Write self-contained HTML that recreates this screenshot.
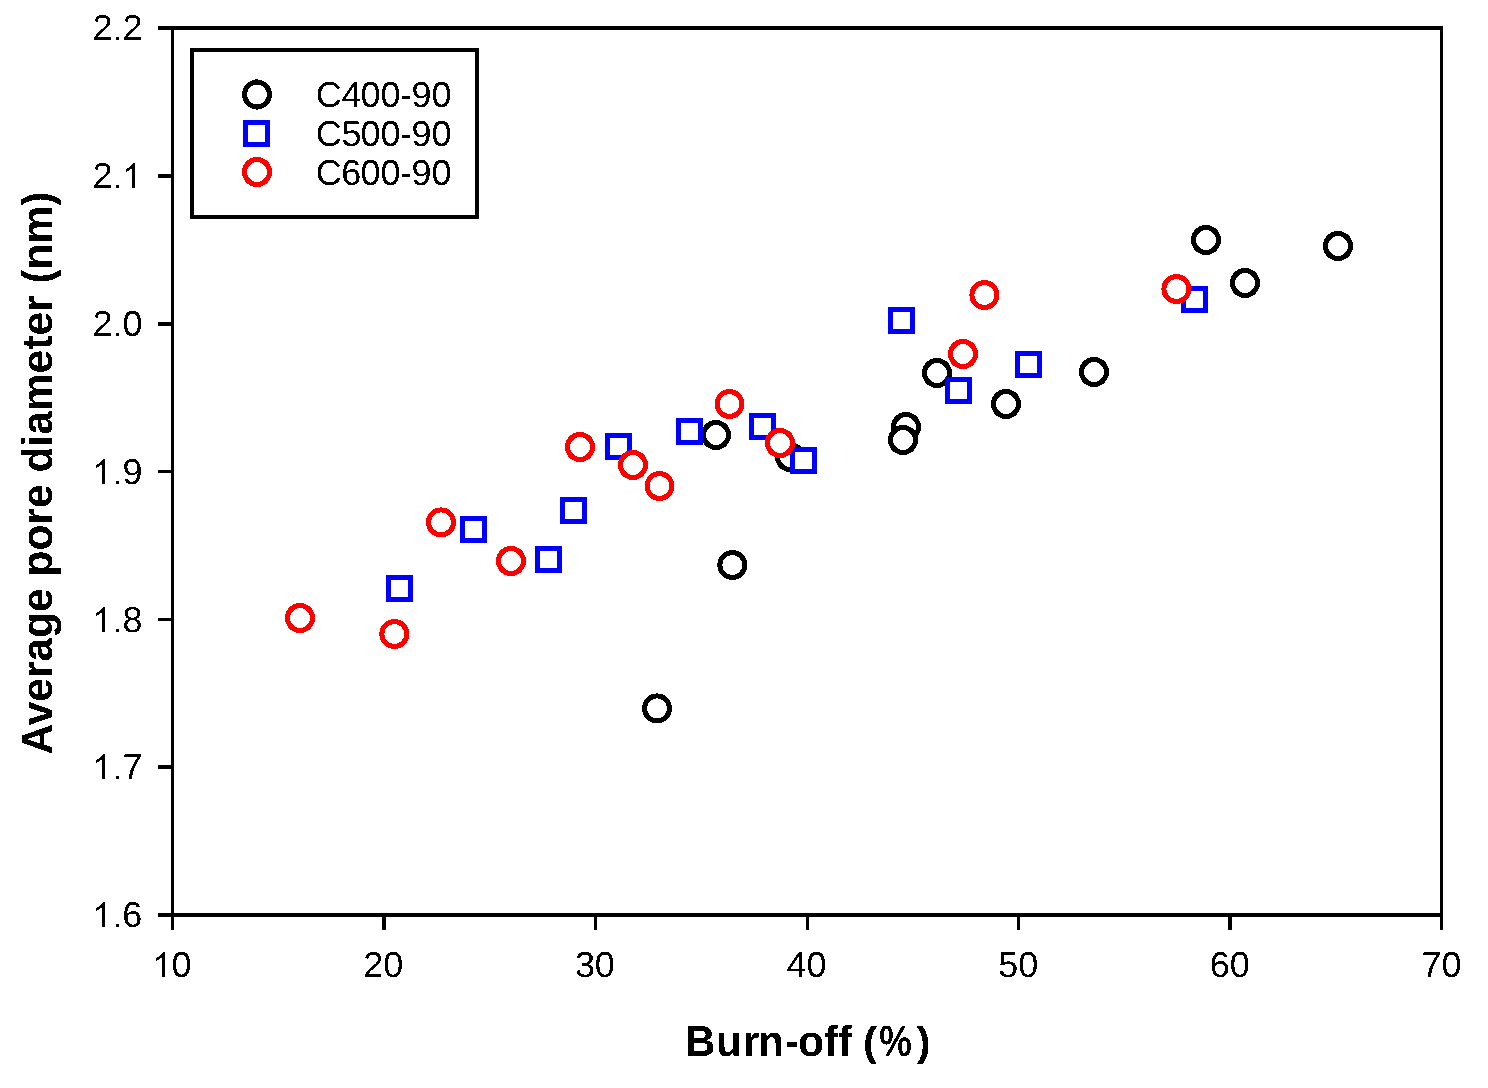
<!DOCTYPE html>
<html><head><meta charset="utf-8"><style>
html,body{margin:0;padding:0;background:#fff;}
svg{display:block;}
.t{font-family:"Liberation Sans",sans-serif;font-size:36px;fill:#000;text-rendering:geometricPrecision;}
.b{font-family:"Liberation Sans",sans-serif;font-size:42.5px;font-weight:bold;fill:#000;text-rendering:geometricPrecision;}
.k{fill:#fff;stroke:#000;stroke-width:5;}
.r{fill:#fff;stroke:#f00;stroke-width:5;}
.s{fill:#fff;stroke:#00f;stroke-width:5;}
</style></head><body>
<svg width="1488" height="1088" viewBox="0 0 1488 1088">
<defs><filter id="crisp" x="0" y="0" width="1488" height="1088" filterUnits="userSpaceOnUse"><feComponentTransfer><feFuncA type="discrete" tableValues="0 1"/></feComponentTransfer></filter></defs>
<g shape-rendering="crispEdges">
<rect x="171" y="26" width="1272" height="4"/>
<rect x="171" y="913" width="1272" height="4"/>
<rect x="171" y="26" width="3" height="891"/>
<rect x="1440" y="26" width="3" height="891"/>
<rect x="158" y="26" width="14" height="4"/>
<rect x="116" y="37" width="3" height="3"/>
<rect x="158" y="174" width="14" height="4"/>
<rect x="116" y="185" width="3" height="3"/>
<rect x="158" y="322" width="14" height="4"/>
<rect x="116" y="333" width="3" height="3"/>
<rect x="158" y="470" width="14" height="3"/>
<rect x="116" y="481" width="3" height="3"/>
<rect x="158" y="618" width="14" height="3"/>
<rect x="116" y="629" width="3" height="3"/>
<rect x="158" y="765" width="14" height="4"/>
<rect x="116" y="776" width="3" height="3"/>
<rect x="158" y="913" width="14" height="4"/>
<rect x="116" y="924" width="3" height="3"/>
<rect x="171" y="917" width="3" height="13"/>
<rect x="382" y="917" width="4" height="13"/>
<rect x="594" y="917" width="3" height="13"/>
<rect x="806" y="917" width="3" height="13"/>
<rect x="1017" y="917" width="3" height="13"/>
<rect x="1228" y="917" width="4" height="13"/>
<rect x="1440" y="917" width="3" height="13"/>
<rect x="192" y="50" width="285" height="167" fill="#fff" stroke="#000" stroke-width="4"/>
<circle cx="657" cy="708.4" r="12.5" class="k"/>
<circle cx="732.3" cy="565" r="12.5" class="k"/>
<circle cx="716" cy="435" r="12.5" class="k"/>
<circle cx="790" cy="457" r="12.5" class="k"/>
<circle cx="906" cy="427" r="12.5" class="k"/>
<circle cx="903" cy="440" r="12.5" class="k"/>
<circle cx="937" cy="373" r="12.5" class="k"/>
<circle cx="1006" cy="404" r="12.5" class="k"/>
<circle cx="1094" cy="372" r="12.5" class="k"/>
<circle cx="1206" cy="240" r="12.5" class="k"/>
<circle cx="1245" cy="283" r="12.5" class="k"/>
<circle cx="1338" cy="246" r="12.5" class="k"/>
<rect x="388.3" y="577.4" width="22" height="22" class="s"/>
<rect x="462.4" y="518" width="22" height="22" class="s"/>
<rect x="537.4" y="548.4" width="22" height="22" class="s"/>
<rect x="562.4" y="499.5" width="22" height="22" class="s"/>
<rect x="607" y="435" width="22" height="22" class="s"/>
<rect x="678.5" y="420.4" width="22" height="22" class="s"/>
<rect x="751.5" y="415" width="22" height="22" class="s"/>
<rect x="792.5" y="449.3" width="22" height="22" class="s"/>
<rect x="890.5" y="309" width="22" height="22" class="s"/>
<rect x="947.5" y="379" width="22" height="22" class="s"/>
<rect x="1017.5" y="353.4" width="22" height="22" class="s"/>
<rect x="1183" y="288.3" width="22" height="22" class="s"/>
<circle cx="300" cy="618" r="12.5" class="r"/>
<circle cx="394.3" cy="634" r="12.5" class="r"/>
<circle cx="441" cy="522.3" r="12.5" class="r"/>
<circle cx="511" cy="561" r="12.5" class="r"/>
<circle cx="580" cy="447" r="12.5" class="r"/>
<circle cx="633" cy="465" r="12.5" class="r"/>
<circle cx="659.5" cy="486" r="12.5" class="r"/>
<circle cx="729.5" cy="404" r="12.5" class="r"/>
<circle cx="780" cy="443" r="12.5" class="r"/>
<circle cx="963" cy="354" r="12.5" class="r"/>
<circle cx="984.4" cy="295" r="12.5" class="r"/>
<circle cx="1176.4" cy="289" r="12.5" class="r"/>
<circle cx="257" cy="94.5" r="12.5" class="k"/>
<rect x="255" y="79" width="3" height="1"/><rect x="256" y="109" width="2" height="1"/>
<rect x="245.5" y="122.5" width="22" height="22" class="s"/>
<circle cx="257" cy="172" r="12.5" class="r"/>
</g>
<g filter="url(#crisp)">
<text x="92.49 122.49" y="40" class="t">22</text>
<path d="M763 0L583 0L583 1147Q518 1085 412.5 1023Q307 961 223 930L223 1104Q374 1175 487 1276Q600 1377 647 1472L763 1472Z" transform="translate(121.75,188) scale(0.017578,-0.017139)"/>
<text x="92.49" y="188" class="t">2</text>
<text x="92.49 122.49" y="336" class="t">20</text>
<path d="M763 0L583 0L583 1147Q518 1085 412.5 1023Q307 961 223 930L223 1104Q374 1175 487 1276Q600 1377 647 1472L763 1472Z" transform="translate(91.75,484) scale(0.017578,-0.017139)"/>
<text x="122.50" y="484" class="t">9</text>
<path d="M763 0L583 0L583 1147Q518 1085 412.5 1023Q307 961 223 930L223 1104Q374 1175 487 1276Q600 1377 647 1472L763 1472Z" transform="translate(91.75,632) scale(0.017578,-0.017139)"/>
<text x="122.49" y="632" class="t">8</text>
<path d="M763 0L583 0L583 1147Q518 1085 412.5 1023Q307 961 223 930L223 1104Q374 1175 487 1276Q600 1377 647 1472L763 1472Z" transform="translate(91.75,779) scale(0.017578,-0.017139)"/>
<text x="122.47" y="779" class="t">7</text>
<path d="M763 0L583 0L583 1147Q518 1085 412.5 1023Q307 961 223 930L223 1104Q374 1175 487 1276Q600 1377 647 1472L763 1472Z" transform="translate(91.75,927) scale(0.017578,-0.017139)"/>
<text x="122.37" y="927" class="t">6</text>
<path d="M763 0L583 0L583 1147Q518 1085 412.5 1023Q307 961 223 930L223 1104Q374 1175 487 1276Q600 1377 647 1472L763 1472Z" transform="translate(151.75,977) scale(0.017578,-0.017139)"/>
<text x="171.49" y="977" class="t">0</text>
<text x="363.16 383.16" y="977" class="t">20</text>
<text x="574.93 594.82" y="977" class="t">30</text>
<text x="786.61 806.49" y="977" class="t">40</text>
<text x="998.19 1018.16" y="977" class="t">50</text>
<text x="1209.70 1229.82" y="977" class="t">60</text>
<text x="1421.47 1441.49" y="977" class="t">70</text>
<text x="0" y="0" transform="translate(0,1056) scale(1,1.026)" class="b"><tspan x="684.70 716.10 742.65 757.94 784.94 798.02 824.02 838.02">Burn-off</tspan></text>
<text x="0" y="0" transform="translate(862.89,1056) scale(1,0.975)" class="b">(</text>
<text x="0" y="0" transform="translate(879.28,1056) scale(0.86,1.026)" class="b">%</text>
<text x="0" y="0" transform="translate(916.46,1056) scale(1,0.975)" class="b">)</text>
<text x="0" y="0" transform="translate(52,473) rotate(-90) scale(1,1.026)" text-anchor="middle" class="b">Average pore diameter (nm)</text>
<text x="315.77 341.60 360.49 380.49 400.01 411.50 431.49" y="107" class="t">C400-90</text>
<text x="315.77 341.52 360.49 380.49 400.01 411.50 431.49" y="146" class="t">C500-90</text>
<text x="315.77 341.37 360.49 380.49 400.01 411.50 431.49" y="185" class="t">C600-90</text>
</g>
</svg>
</body></html>
